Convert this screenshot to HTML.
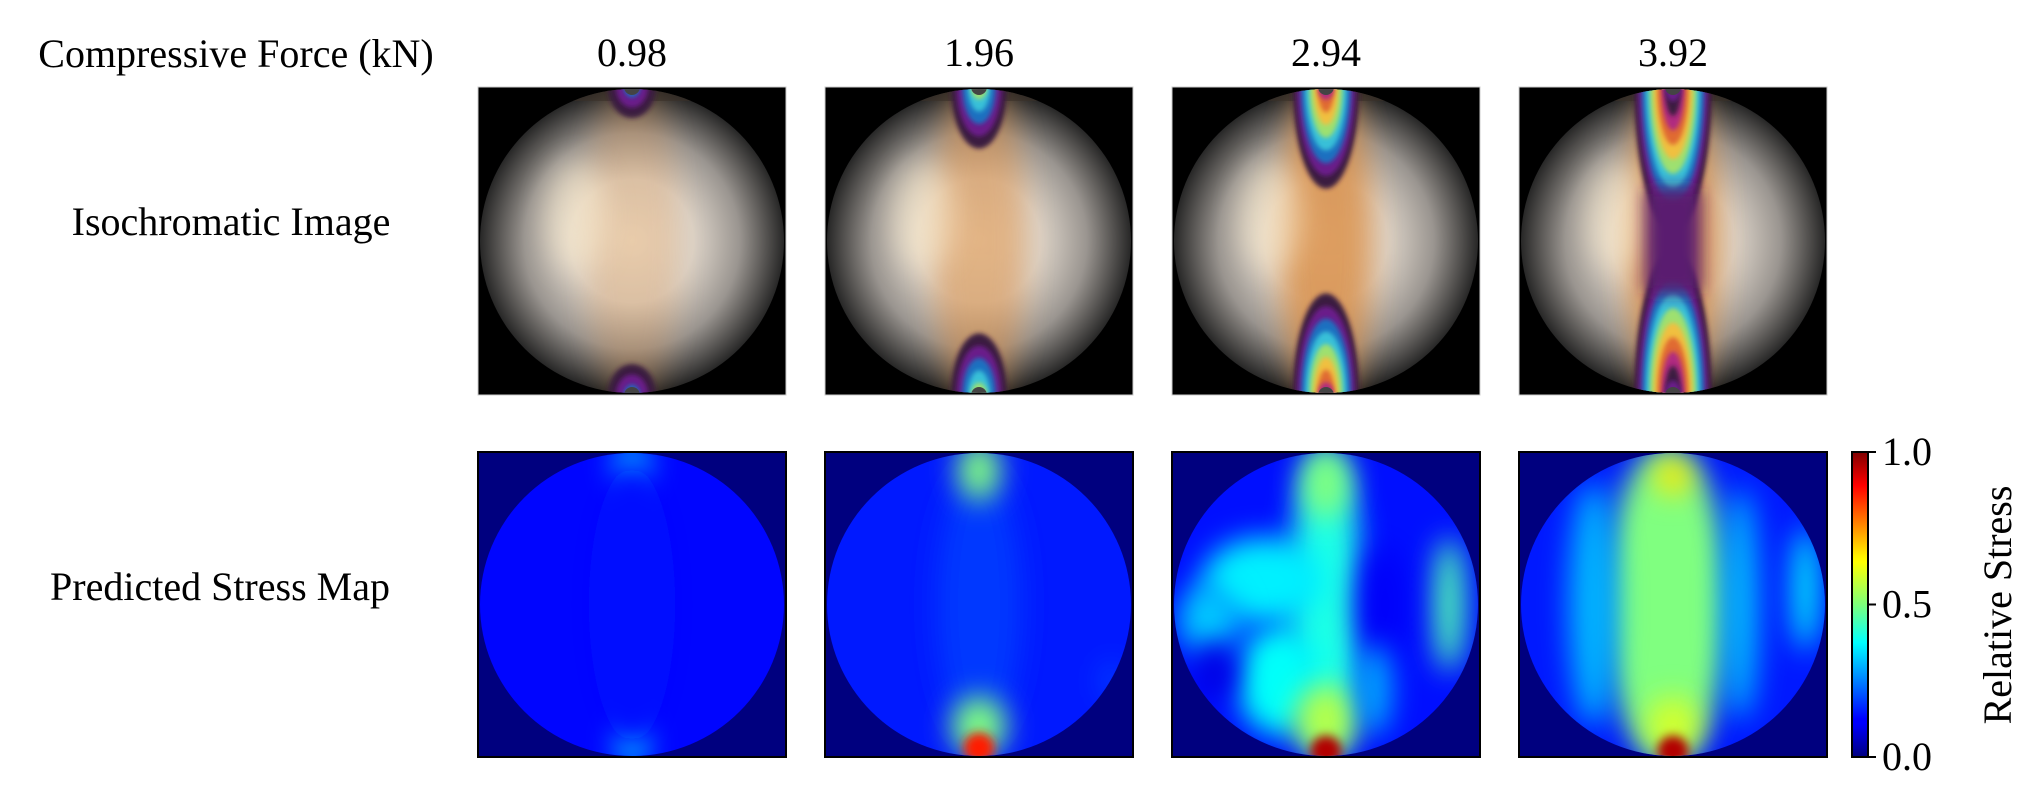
<!DOCTYPE html>
<html><head><meta charset="utf-8">
<style>
html,body{margin:0;padding:0;background:#fff;}
svg{display:block;}
text{font-family:"Liberation Serif","Times New Roman",serif;fill:#000;}
</style></head>
<body>
<svg id="fig" width="2034" height="809" viewBox="0 0 2034 809" xmlns="http://www.w3.org/2000/svg">
<defs>
<filter id="blur8" filterUnits="userSpaceOnUse" x="0" y="0" width="2034" height="809"><feGaussianBlur stdDeviation="8"/></filter>
<filter id="blur5" filterUnits="userSpaceOnUse" x="0" y="0" width="2034" height="809"><feGaussianBlur stdDeviation="5"/></filter>
<filter id="blur14" filterUnits="userSpaceOnUse" x="0" y="0" width="2034" height="809"><feGaussianBlur stdDeviation="14"/></filter>
<filter id="blur3" filterUnits="userSpaceOnUse" x="0" y="0" width="2034" height="809"><feGaussianBlur stdDeviation="2.5"/></filter>
<radialGradient id="isoDisk" cx="0.5" cy="0.5" r="0.5">
<stop offset="0" stop-color="#efe3d2"/><stop offset="0.4" stop-color="#dcd3c8"/>
<stop offset="0.7" stop-color="#9a9590"/><stop offset="1" stop-color="#222"/>
</radialGradient>
<linearGradient id="jetbar" x1="0" y1="1" x2="0" y2="0">
<stop offset="0" stop-color="#00007f"/><stop offset="0.11" stop-color="#0000ff"/>
<stop offset="0.125" stop-color="#0000ff"/><stop offset="0.34" stop-color="#00dcff"/>
<stop offset="0.375" stop-color="#00ffff"/><stop offset="0.5" stop-color="#7dff7a"/>
<stop offset="0.64" stop-color="#ffff00"/><stop offset="0.66" stop-color="#fff000"/>
<stop offset="0.89" stop-color="#ff0000"/><stop offset="1" stop-color="#7f0000"/>
</linearGradient>
</defs>
<text x="236" y="67" font-size="40" text-anchor="middle">Compressive Force (kN)</text>
<text x="231" y="235" font-size="40" text-anchor="middle">Isochromatic Image</text>
<text x="220" y="600" font-size="40" text-anchor="middle">Predicted Stress Map</text>
<g id="panels"></g>
<g>
<rect x="1852" y="452" width="16" height="305" fill="url(#jetbar)" stroke="#000" stroke-width="2"/>
</g>
<g id="cbticks"></g>
<text transform="translate(2011,605) rotate(-90)" font-size="40" text-anchor="middle">Relative Stress</text>
</svg>
<script>
const forces = ["0.98","1.96","2.94","3.92"];
const fringeDepth = [0.1, 0.2, 0.33, 0.47];
const fringeRings = [3, 5, 8, 10];
const warmth = [0.25, 0.5, 0.75, 0.8];
const diskStress = [0.13, 0.15, 0.14, 0.15];
// stress blobs: [panel, cx, cy, rx, ry, value]
const blobs = [
 [0,0.5,0.04,0.06,0.07,0.3],[0,0.5,0.96,0.05,0.06,0.35],[0,0.5,0.5,0.14,0.45,0.14],
 [1,0.5,0.5,0.14,0.45,0.18],[1,0.5,0.06,0.07,0.1,0.5],[1,0.5,0.9,0.09,0.1,0.5],[1,0.5,0.97,0.05,0.05,0.85],[1,0.93,0.75,0.02,0.06,0.22],
 [2,0.5,0.5,0.12,0.5,0.4],[2,0.3,0.42,0.2,0.14,0.36],[2,0.12,0.55,0.1,0.12,0.32],[2,0.35,0.75,0.14,0.18,0.38],[2,0.14,0.72,0.07,0.1,0.1],[2,0.5,0.1,0.08,0.12,0.5],[2,0.5,0.88,0.1,0.12,0.55],[2,0.9,0.5,0.05,0.22,0.45],[2,0.68,0.5,0.08,0.2,0.12],[2,0.66,0.78,0.05,0.15,0.3],[2,0.5,0.98,0.05,0.05,0.95],
 [3,0.48,0.5,0.2,0.52,0.5],[3,0.5,0.08,0.06,0.06,0.65],[3,0.5,0.9,0.09,0.1,0.58],[3,0.24,0.5,0.08,0.4,0.3],[3,0.93,0.45,0.04,0.2,0.38],[3,0.72,0.5,0.06,0.38,0.3],[3,0.5,0.98,0.05,0.05,0.95]
];
const cbTicks = [0.0, 0.5, 1.0];

const NS = "http://www.w3.org/2000/svg";
const px0 = 478, pstep = 347, pw = 308;
const r1y = 87, r1h = 308, r2y = 452, r2h = 305;
function el(tag, attrs, parent){const e=document.createElementNS(NS,tag);for(const k in attrs)e.setAttribute(k,attrs[k]);parent.appendChild(e);return e;}
function jet(v){
  v=Math.max(0,Math.min(1,v));
  const r=Math.max(0,Math.min(1,Math.min(4*v-1.5,-4*v+4.5)));
  const g=Math.max(0,Math.min(1,Math.min(4*v-0.5,-4*v+3.5)));
  const b=Math.max(0,Math.min(1,Math.min(4*v+0.5,-4*v+2.5)));
  return `rgb(${Math.round(r*255)},${Math.round(g*255)},${Math.round(b*255)})`;
}
const fringeColors = ["#3a1a40","#6b1a8a","#1f6fc0","#38c0d8","#9ee070","#f0c040","#e06a30","#b02a80"];
const panels = document.getElementById("panels");
const defs = document.querySelector("defs");
forces.forEach((f,i)=>{
  const x = px0 + i*pstep, cx = x + pw/2;
  const t = el("text",{x:cx,y:66,"font-size":40,"text-anchor":"middle"},panels);
  t.textContent = f;
  
  
  const c1 = el("clipPath",{id:"c1_"+i},defs); el("ellipse",{cx:cx,cy:r1y+r1h/2,rx:pw/2-2,ry:r1h/2-2},c1);
  const c2 = el("clipPath",{id:"c2_"+i},defs); el("ellipse",{cx:cx,cy:r2y+r2h/2,rx:pw/2-2,ry:r2h/2-1},c2);
  const g1 = el("g",{},panels);
  
  
  el("rect",{x:x,y:r1y,width:pw,height:r1h,fill:"#000",stroke:"#ccc","stroke-width":1},g1);
  const gi = el("g",{"clip-path":`url(#c1_${i})`},g1);
  el("rect",{x:x,y:r1y,width:pw,height:r1h,fill:"url(#isoDisk)"},gi);
  el("ellipse",{cx:cx,cy:r1y+r1h*0.5,rx:pw*0.15,ry:r1h*0.55,fill:"#d8873a",opacity:warmth[i],filter:"url(#blur14)"},gi);
  el("ellipse",{cx:cx-pw*0.18,cy:r1y+r1h*0.42,rx:pw*0.1,ry:r1h*0.18,fill:"#fff0d0",opacity:0.5,filter:"url(#blur14)"},gi);
  el("rect",{x:x,y:r1y,width:pw,height:14,fill:"#3a3028",opacity:0.6},gi);
  const d = fringeDepth[i]*r1h, n = fringeRings[i];
  [0,1].forEach(side=>{
    const yAnchor = side===0 ? r1y : r1y+r1h;
    for(let k=0;k<n;k++){
      const s = 1 - k/n;
      const ry = d*s, rx = Math.max(8, pw*0.1*(0.5+fringeDepth[i])*s*1.3);
      el("ellipse",{cx:cx,cy:yAnchor,rx:rx,ry:ry,fill:fringeColors[k%fringeColors.length],filter:"url(#blur3)"},gi);
    }
    el("ellipse",{cx:cx,cy:yAnchor,rx:8,ry:8,fill:"#444"},gi);
  });
  if(i===3){ el("rect",{x:cx-pw*0.09,y:r1y+r1h*0.33,width:pw*0.18,height:r1h*0.34,fill:"#5a1a70",filter:"url(#blur8)"},gi); }
  const g2 = el("g",{},panels);
  
  
  el("rect",{x:x,y:r2y,width:pw,height:r2h,fill:"#00007f"},g2);
  const gs = el("g",{"clip-path":`url(#c2_${i})`},g2);
  el("rect",{x:x,y:r2y,width:pw,height:r2h,fill:jet(diskStress[i])},gs);
  blobs.filter(b=>b[0]===i).forEach(b=>{
    const small = b[3] < 0.06 && b[5] > 0.7;
    const bl = el("ellipse",{cx:x+b[1]*pw,cy:r2y+b[2]*r2h,rx:b[3]*pw,ry:b[4]*r2h,fill:jet(b[5]),filter:small?"url(#blur5)":"url(#blur14)"},gs);
    
    
  });
  el("rect",{x:x,y:r2y,width:pw,height:r2h,fill:"none",stroke:"#000","stroke-width":2},g2);
});
const cbt = document.getElementById("cbticks");
cbTicks.forEach(v=>{
  const y = 757 - v*305;
  el("line",{x1:1868,y1:y,x2:1876,y2:y,stroke:"#000","stroke-width":2},cbt);
  const tx = el("text",{x:1882,y:y+13,"font-size":40},cbt);
  tx.textContent = v.toFixed(1);
  
  
});
</script>
</body></html>
